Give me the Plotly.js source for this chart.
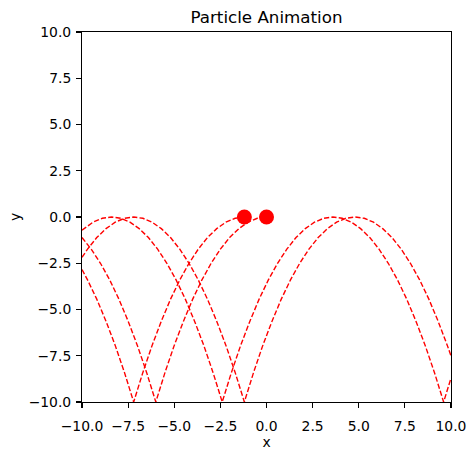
<!DOCTYPE html>
<html>
<head>
<meta charset="utf-8">
<script src="https://cdn.plot.ly/plotly-3.0.1.min.js"></script>
<style>html,body{margin:0;padding:0;background:#fff;}</style>
</head>
<body>
<div id="chart" style="width:476px;height:455px;"></div>
<script>
// Current particle positions
var particleX = [-1.2, 0.0];
var particleY = [0.0, 0.0];

// Trail of particle ending at x = 0
var trailAX = [-10, -9.5, -9, -8.5, -8, -7.5, -7, -6.5, -6, -5.5, -5, -4.5, -4, -3.5, -3, -2.5, -2, -1.5, -1, -0.5, 0];
var trailAY = [-1.11, -1.74, -2.5, -3.4, -4.44, -5.63, -6.94, -8.4, -10, -8.4, -6.94, -5.63, -4.44, -3.4, -2.5, -1.74, -1.11, -0.63, -0.28, -0.07, 0];

// Trail of particle ending at x = -1.2
var trailBX = [-10, -9.7, -9.2, -8.7, -8.2, -7.7, -7.2, -6.7, -6.2, -5.7, -5.2, -4.7, -4.2, -3.7, -3.2, -2.7, -2.2, -1.7, -1.2];
var trailBY = [-2.84, -3.4, -4.44, -5.63, -6.94, -8.4, -10, -8.4, -6.94, -5.63, -4.44, -3.4, -2.5, -1.74, -1.11, -0.63, -0.28, -0.07, 0];

// Earlier trail crossing the whole frame (peaks at -7.2 and 4.8)
var trailCX = [-10, -9.7, -9.2, -8.7, -8.2, -7.7, -7.2, -6.7, -6.2, -5.7, -5.2, -4.7, -4.2, -3.7, -3.2, -2.7, -2.2, -1.7, -1.2, -0.7, -0.2, 0.3, 0.8, 1.3, 1.8, 2.3, 2.8, 3.3, 3.8, 4.3, 4.8, 5.3, 5.8, 6.3, 6.8, 7.3, 7.8, 8.3, 8.8, 9.3, 9.8, 10];
var trailCY = [-2.18, -1.74, -1.11, -0.63, -0.28, -0.07, 0, -0.07, -0.28, -0.63, -1.11, -1.74, -2.5, -3.4, -4.44, -5.63, -6.94, -8.4, -10, -8.4, -6.94, -5.63, -4.44, -3.4, -2.5, -1.74, -1.11, -0.63, -0.28, -0.07, 0, -0.07, -0.28, -0.63, -1.11, -1.74, -2.5, -3.4, -4.44, -5.63, -6.94, -7.51];

// Earlier trail crossing the whole frame (peaks at -8.4 and 3.6)
var trailDX = [-10, -9.4, -8.9, -8.4, -7.9, -7.4, -6.9, -6.4, -5.9, -5.4, -4.9, -4.4, -3.9, -3.4, -2.9, -2.4, -1.9, -1.4, -0.9, -0.4, 0.1, 0.6, 1.1, 1.6, 2.1, 2.6, 3.1, 3.6, 4.1, 4.6, 5.1, 5.6, 6.1, 6.6, 7.1, 7.6, 8.1, 8.6, 9.1, 9.6, 10];
var trailDY = [-0.71, -0.28, -0.07, 0, -0.07, -0.28, -0.63, -1.11, -1.74, -2.5, -3.4, -4.44, -5.63, -6.94, -8.4, -10, -8.4, -6.94, -5.63, -4.44, -3.4, -2.5, -1.74, -1.11, -0.63, -0.28, -0.07, 0, -0.07, -0.28, -0.63, -1.11, -1.74, -2.5, -3.4, -4.44, -5.63, -6.94, -8.4, -10, -8.71];

// Tick values and labels
var tickVals = [-10, -7.5, -5, -2.5, 0, 2.5, 5, 7.5, 10];
var tickText = ['\u221210.0', '\u22127.5', '\u22125.0', '\u22122.5', '0.0', '2.5', '5.0', '7.5', '10.0'];

var trailLine = {color: '#ff0000', width: 1.4, dash: '5.2px,2.2px'};
function trail(x, y) {
  return {x: x, y: y, type: 'scatter', mode: 'lines', line: trailLine, hoverinfo: 'skip', showlegend: false};
}

var data = [
  trail(trailAX, trailAY),
  trail(trailBX, trailBY),
  trail(trailCX, trailCY),
  trail(trailDX, trailDY),
  {x: particleX, y: particleY, type: 'scatter', mode: 'markers',
   marker: {color: '#ff0000', size: 15}, showlegend: false, cliponaxis: true}
];

var font = {family: 'DejaVu Sans, sans-serif', color: '#000000', size: 13.9};
var axisCommon = {
  range: [-10, 10],
  tickmode: 'array',
  tickvals: tickVals,
  ticktext: tickText,
  ticks: 'outside',
  ticklen: 4.9,
  tickwidth: 1.1,
  tickcolor: '#000000',
  showline: true,
  linecolor: '#000000',
  linewidth: 1.1,
  mirror: true,
  showgrid: false,
  zeroline: false,
  tickfont: font,
  automargin: false
};

var layout = {
  width: 476,
  height: 455,
  margin: {l: 82, r: 24.5, t: 32, b: 53, pad: 0},
  paper_bgcolor: '#ffffff',
  plot_bgcolor: '#ffffff',
  font: font,
  title: {text: 'Particle Animation', font: {family: 'DejaVu Sans, sans-serif', size: 16.7, color: '#000000'},
          x: 0.5, xref: 'paper', xanchor: 'center', y: 1, yref: 'paper', yanchor: 'bottom', pad: {b: 9}},
  xaxis: Object.assign({}, axisCommon, {ticklabelstandoff: 6, title: {text: 'x', font: font, standoff: 0}}),
  yaxis: Object.assign({}, axisCommon, {ticklabelstandoff: 2, title: {text: 'y', font: font, standoff: 4}}),
  showlegend: false
};

Plotly.newPlot('chart', data, layout, {displayModeBar: false, staticPlot: true});
</script>
</body>
</html>
